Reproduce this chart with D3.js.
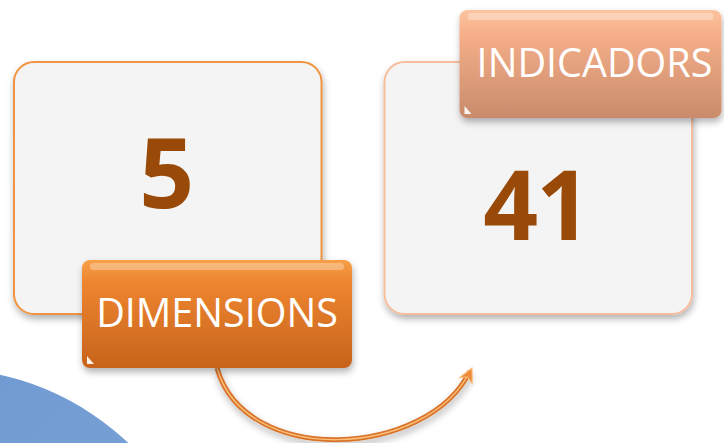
<!DOCTYPE html>
<html>
<head>
<meta charset="utf-8">
<script src="https://cdn.jsdelivr.net/npm/d3@7"></script>
<style>
  html, body { margin: 0; padding: 0; background: #fff; }
  svg { display: block; }
</style>
</head>
<body>
<div id="chart"></div>
<script>
// data
var categories = ["DIMENSIONS", "INDICADORS"];
var values = [5, 41];

var width = 724, height = 443;

var svg = d3.select("#chart").append("svg")
  .attr("width", width)
  .attr("height", height);

var defs = svg.append("defs");

// soft drop shadow
var shadow = defs.append("filter")
  .attr("id", "shadow")
  .attr("x", "-20%").attr("y", "-20%")
  .attr("width", "140%").attr("height", "150%");
shadow.append("feDropShadow")
  .attr("dx", 1).attr("dy", 4)
  .attr("stdDeviation", 3.5)
  .attr("flood-color", "#000")
  .attr("flood-opacity", 0.3);

// label gradients (one per category)
var label_colors = [
  { top: "#f7a048", mid: "#ee8530", bottom: "#c7631c" },
  { top: "#fcc4a0", mid: "#f6b08a", bottom: "#c98b6b" }
];
label_colors.forEach(function(c, i) {
  var g = defs.append("linearGradient")
    .attr("id", "labelGrad" + i)
    .attr("x1", 0).attr("y1", 0).attr("x2", 0).attr("y2", 1);
  g.append("stop").attr("offset", "0%").attr("stop-color", c.top);
  g.append("stop").attr("offset", "20%").attr("stop-color", c.mid);
  g.append("stop").attr("offset", "100%").attr("stop-color", c.bottom);
});

var blueGrad = defs.append("linearGradient")
  .attr("id", "blueGrad")
  .attr("x1", 0).attr("y1", 0).attr("x2", 1).attr("y2", 1);
blueGrad.append("stop").attr("offset", "0%").attr("stop-color", "#6894d0");
blueGrad.append("stop").attr("offset", "100%").attr("stop-color", "#84aad8");

// background blue swoosh, bottom left
svg.append("circle")
  .attr("cx", -60).attr("cy", 642).attr("r", 274)
  .attr("fill", "url(#blueGrad)");

// box positions
var x = d3.scaleBand()
  .domain(categories)
  .range([14, 692])
  .paddingInner(0.17)
  .paddingOuter(0);

var boxTop = 62, boxBottom = 314;

var box_stroke = ["#ef9442", "#f8bd9c"];

// number baselines and label placement, per category
var num_y = [208, 240];
var label_box = [
  { dx: 68, y: 260, w: 270, h: 108, tx: 0 },
  { dx: 75, y: 10, w: 262, h: 108, tx: 4 }
];

var items = categories.map(function(c, i) {
  return { name: c, value: values[i], i: i };
});

// main boxes
svg.selectAll("rect.box")
  .data(items)
  .enter().append("rect")
    .attr("class", "box")
    .attr("x", function(d) { return x(d.name); })
    .attr("y", boxTop)
    .attr("width", x.bandwidth())
    .attr("height", boxBottom - boxTop)
    .attr("rx", 20)
    .attr("fill", "#f4f4f4")
    .attr("stroke", function(d) { return box_stroke[d.i]; })
    .attr("stroke-width", 2)
    .attr("filter", "url(#shadow)");

// big numbers
svg.selectAll("text.value")
  .data(items)
  .enter().append("text")
    .attr("class", "value")
    .attr("x", function(d) { return x(d.name) + x.bandwidth() / 2 - 2; })
    .attr("y", function(d) { return num_y[d.i]; })
    .attr("text-anchor", "middle")
    .style("font-family", "'Open Sans', sans-serif")
    .style("font-weight", "700")
    .style("font-size", "96px")
    .style("letter-spacing", "-2px")
    .style("fill", "#994a08")
    .text(function(d) { return d.value; });

// curved arrow between labels
var arrowPath = "M217,368 C245,468 428,458 470,371";
svg.append("path")
  .attr("d", arrowPath)
  .attr("fill", "none")
  .attr("stroke", "#d8732a")
  .attr("stroke-width", 5)
  .attr("filter", "url(#shadow)");
svg.append("path")
  .attr("d", arrowPath)
  .attr("fill", "none")
  .attr("stroke", "#fbbd78")
  .attr("stroke-width", 1.5);
// arrow head, oriented along end tangent
var ang = Math.atan2(371 - 458, 470 - 428) * 180 / Math.PI;
svg.append("path")
  .attr("d", "M0,0 L-14,-7 L-10,0 L-14,7 Z")
  .attr("transform", "translate(472,368) rotate(" + ang + ")")
  .attr("fill", "#ec8a3a")
  .attr("stroke", "#fbbd78")
  .attr("stroke-width", 1);

// label boxes
var labels = svg.selectAll("g.label")
  .data(items)
  .enter().append("g")
    .attr("class", "label")
    .attr("transform", function(d) {
      return "translate(" + (x(d.name) + label_box[d.i].dx) + "," + label_box[d.i].y + ")";
    });

labels.append("rect")
  .attr("width", function(d) { return label_box[d.i].w; })
  .attr("height", function(d) { return label_box[d.i].h; })
  .attr("rx", 8)
  .attr("fill", function(d) { return "url(#labelGrad" + d.i + ")"; })
  .attr("filter", "url(#shadow)");

// glossy top highlight
labels.append("rect")
  .attr("x", 8).attr("y", 3)
  .attr("width", function(d) { return label_box[d.i].w - 16; })
  .attr("height", 7)
  .attr("rx", 3.5)
  .attr("fill", "#fff")
  .attr("opacity", 0.3);

// small corner glare
labels.append("path")
  .attr("d", function(d) {
    var h = label_box[d.i].h;
    return "M5," + (h - 12) + " L5," + (h - 4) + " L12," + (h - 4) + " Z";
  })
  .attr("fill", "#fff")
  .attr("opacity", 0.9);

labels.append("text")
  .attr("x", function(d) { return label_box[d.i].w / 2 + label_box[d.i].tx; })
  .attr("y", 67)
  .attr("text-anchor", "middle")
  .style("font-family", "'Open Sans', sans-serif")
  .style("font-size", "39.5px")
  .style("fill", "#fff")
  .text(function(d) { return d.name; });
</script>
</body>
</html>
